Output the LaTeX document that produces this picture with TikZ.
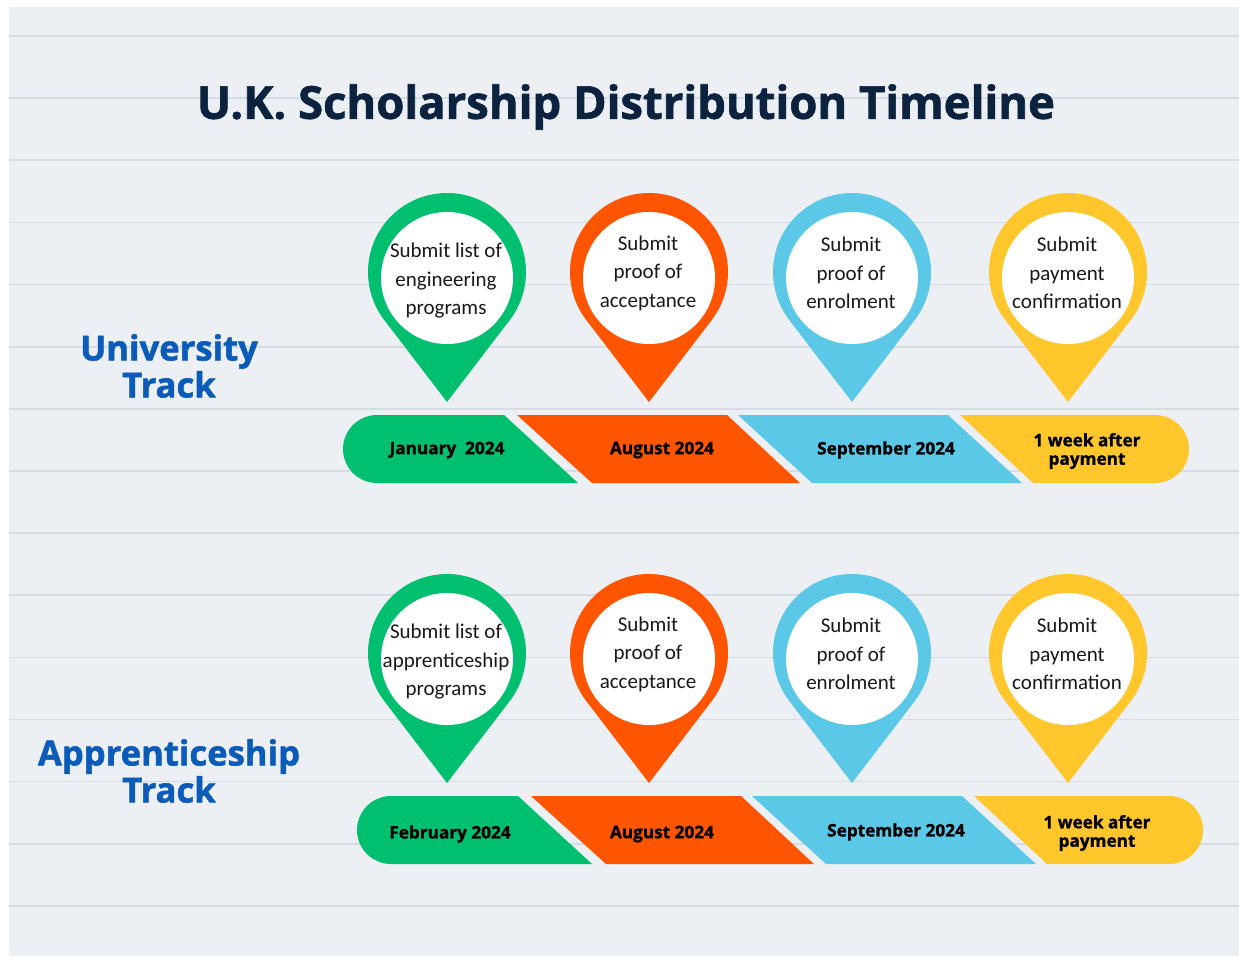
\documentclass[tikz,border=0pt]{standalone}
\usepackage{fontspec}
\setmainfont{Carlito}
\newfontfamily\headfont{Open Sans}[BoldFeatures={FakeBold=1.5}]
\newfontfamily\barfont{Open Sans}[BoldFeatures={FakeBold=1.2}]
\usetikzlibrary{calc}
\definecolor{bgc}{RGB}{236,239,243}
\definecolor{gridc}{RGB}{214,220,230}
\definecolor{navy}{RGB}{12,35,64}
\definecolor{trackblue}{RGB}{10,92,184}
\definecolor{pgreen}{RGB}{0,191,111}
\definecolor{porange}{RGB}{255,85,0}
\definecolor{pblue}{RGB}{91,200,232}
\definecolor{pyellow}{RGB}{255,199,44}
\definecolor{txt}{RGB}{25,25,25}
\tikzset{
  titletext/.style={font=\headfont\bfseries\fontsize{45.4}{54}\selectfont, text=navy, inner sep=0pt},
  tracklabel/.style={font=\headfont\bfseries\fontsize{34.6}{37}\selectfont, text=trackblue, align=center, inner sep=0pt},
  pintext/.style={font=\fontsize{21}{28.5}\selectfont, text=txt, align=center, inner sep=0pt},
  bartext/.style={font=\barfont\bfseries\fontsize{17.2}{18.5}\selectfont, text=black, align=center, inner sep=0pt},
  gridline/.style={draw=gridc, line width=1.6pt},
}
\newcommand{\drawpin}[3]{%
  \begin{scope}[shift={(#1,#2)}]
    \fill[#3] (0pt,-130pt) -- (-37.4:79pt) arc[start angle=-37.4,end angle=217.4,radius=79pt] -- cycle;
    \fill[white] (0pt,-6pt) circle[radius=66pt];
  \end{scope}}
\newcommand{\drawbar}[2]{% x shift, y top
  \begin{scope}[shift={(#1,#2)}]
    \fill[pgreen] (161,0) -- (34,0) arc[start angle=90,end angle=270,radius=34pt] -- (235,68) -- cycle;
    \fill[porange] (174,0) -- (384,0) -- (457,68) -- (249,68) -- cycle;
    \fill[pblue] (395,0) -- (605,0) -- (679,68) -- (469,68) -- cycle;
    \fill[pyellow] (617,0) -- (812,0) arc[start angle=90,end angle=-90,radius=34pt] -- (690,68) -- cycle;
  \end{scope}}
\begin{document}
\begin{tikzpicture}[x=1pt,y=-1pt]
\useasboundingbox (0,0) rectangle (1239,956);
\fill[white] (0,0) rectangle (1239,956);
\fill[bgc] (9,7) rectangle (1239,956);
\foreach \k in {0,...,14} \draw[gridline] (9,{36+62.14*\k}) -- (1239,{36+62.14*\k});

\node[titletext] (title) at (626,107) {U.K. Scholarship Distribution Timeline};

\node[tracklabel] (uni) at (169,366) {University\\Track};
\node[tracklabel] (app) at (169,771) {Apprenticeship\\Track};

% row 1 pins
\drawpin{447}{272}{pgreen}
\drawpin{649}{272}{porange}
\drawpin{852}{272}{pblue}
\drawpin{1068}{272}{pyellow}
\node[pintext] (p1a) at (446,281) {Submit list of\\engineering\\programs};
\node[pintext] (p1b) at (648,273) {Submit\\proof of\\acceptance};
\node[pintext] (p1c) at (851,273) {Submit\\proof of\\enrolment};
\node[pintext] (p1d) at (1067,273) {Submit\\payment\\confirmation};

% row 2 pins
\drawpin{447}{653}{pgreen}
\drawpin{649}{653}{porange}
\drawpin{852}{653}{pblue}
\drawpin{1068}{653}{pyellow}
\node[pintext] (p2a) at (446,662) {Submit list of\\apprenticeship\\programs};
\node[pintext] (p2b) at (648,654) {Submit\\proof of\\acceptance};
\node[pintext] (p2c) at (851,654) {Submit\\proof of\\enrolment};
\node[pintext] (p2d) at (1067,654) {Submit\\payment\\confirmation};

% bars
\drawbar{343}{415}
\drawbar{357}{796}
\node[bartext] (b1a) at (447,450) {January\ \ 2024};
\node[bartext] (b1b) at (662,450) {August 2024};
\node[bartext] (b1c) at (886,450) {September 2024};
\node[bartext] (b1d) at (1087,451) {1 week after\\payment};
\node[bartext] (b2a) at (450,834) {February 2024};
\node[bartext] (b2b) at (662,834) {August 2024};
\node[bartext] (b2c) at (896,832) {September 2024};
\node[bartext] (b2d) at (1097,833) {1 week after\\payment};
\end{tikzpicture}
\end{document}
